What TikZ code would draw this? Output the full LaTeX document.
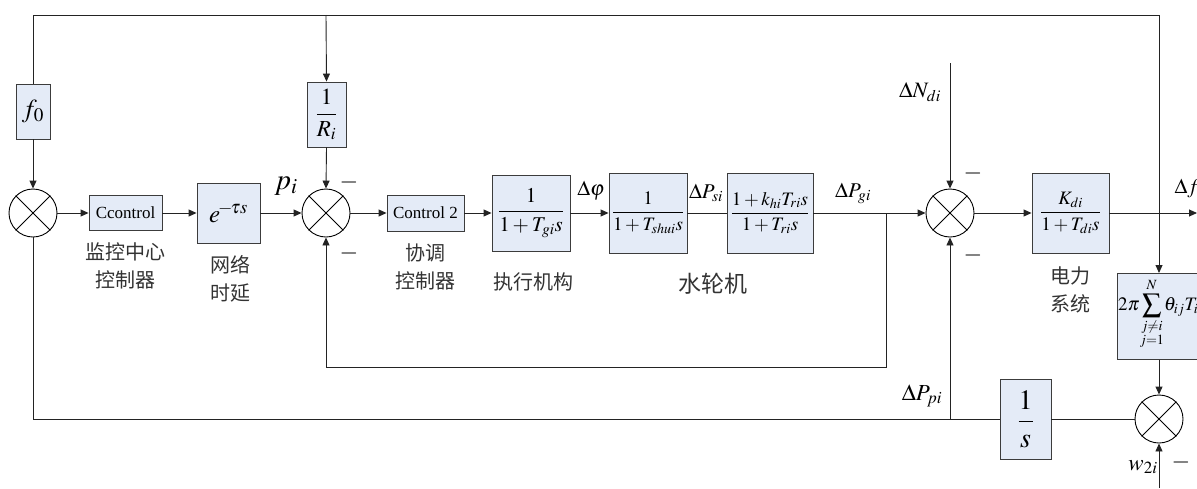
\documentclass[tikz,border=0pt]{standalone}
\usepackage{amsmath}
\usepackage{mathptmx}
\usepackage[no-math]{fontspec}
\setmainfont{Liberation Serif}
\newfontfamily\cjk{Noto Sans CJK SC}
\usetikzlibrary{arrows.meta,calc}
\definecolor{boxfill}{RGB}{228,235,247}
\definecolor{boxline}{RGB}{60,60,60}
\definecolor{wirecol}{RGB}{35,35,35}
\tikzset{
  blk/.style={draw=boxline, fill=boxfill, line width=0.9pt, inner sep=0pt},
  summer/.style={draw=black, circle, minimum size=48pt, inner sep=0pt, line width=0.9pt, fill=white},
  wire/.style={draw=wirecol, line width=0.9pt},
  sig/.style={wire, -{Triangle[length=8pt,width=7pt]}},
  cn/.style={font=\cjk\fontsize{20}{28}\selectfont, align=center, text=black!80, inner sep=0pt},
  lbl/.style={font=\fontsize{21}{24}\selectfont, inner sep=0pt},
  minus/.style={font=\fontsize{24}{26}\selectfont, inner sep=0pt},
}
\begin{document}
\begin{tikzpicture}[x=1pt,y=-1pt]
\useasboundingbox (0,0) rectangle (1197,488);
\clip (0,0) rectangle (1197,488);

% summing junctions
\node[summer] (s1) at (33,213) {};
\node[summer] (s2) at (326,213) {};
\node[summer] (s3) at (950,213) {};
\node[summer] (s4) at (1159,419) {};
\foreach \s in {s1,s2,s3,s4}
  \draw[line width=0.8pt] (\s.45) -- (\s.225) (\s.135) -- (\s.315);

% transfer blocks
\node[blk, minimum width=34, minimum height=55, font=\fontsize{26}{28}\selectfont] (f0) at (33,111.5) {$f_0$};
\node[blk, minimum width=39, minimum height=65, font=\fontsize{23}{26}\selectfont] (Rinv) at (326.5,114.5) {$\dfrac{1}{R_i}$};
\node[blk, minimum width=73, minimum height=35, font=\fontsize{17}{20}\selectfont] (cc) at (125.5,213) {Ccontrol};
\node[blk, minimum width=63, minimum height=60, font=\fontsize{25}{28}\selectfont] (ed) at (228.5,213) {$e^{\!-\!\tau s}$};
\node[blk, minimum width=77, minimum height=36, font=\fontsize{17}{20}\selectfont] (c2) at (425.5,213) {Control 2};
\node[blk, minimum width=78, minimum height=76, font=\fontsize{21}{24}\selectfont] (tg) at (531,213) {$\dfrac{1}{1+T_{gi}s}$};
\node[blk, minimum width=78, minimum height=80, font=\fontsize{19}{24}\selectfont] (ts) at (648,213) {$\dfrac{1}{1+T_{shui}s}$};
\node[blk, minimum width=86, minimum height=80, font=\fontsize{19}{24}\selectfont] (tr) at (770,213) {$\dfrac{1+k_{hi}T_{ri}s}{1+T_{ri}s}$};
\node[blk, minimum width=77, minimum height=80, font=\fontsize{19}{24}\selectfont] (kd) at (1070.5,213) {$\dfrac{K_{di}}{1+T_{di}s}$};
\node[blk, minimum width=51, minimum height=80, font=\fontsize{28}{30}\selectfont] (si) at (1025.5,419) {$\dfrac{1}{s}$};
\node[blk, anchor=north west, minimum width=110, minimum height=86] (sum) at (1117,273) {};
\node[anchor=west, inner sep=0pt, font=\fontsize{19}{22}\selectfont] (sumtx) at (1118,314)
  {$\displaystyle 2\pi\!\sum_{\substack{j\neq i\\ j=1}}^{N}\!\theta_{ij}T_{ij}$};

% auxiliary points of the wiring
\coordinate (topL) at (33,15);
\coordinate (topM) at (326,15);
\coordinate (topR) at (1159,15);
\coordinate (fbk)  at (886,213);
\coordinate (fbkB) at (886,367);
\coordinate (ndi)  at (950,63);
\coordinate (fout) at (1197,213);
\coordinate (wb)   at (1159,488);
\coordinate (bl)   at (33,419);
\coordinate (pj)   at (950,419);

% forward path
\draw[sig] (s1.east) -- (cc.west);
\draw[sig] (cc.east) -- (ed.west);
\draw[sig] (ed.east) -- (s2.west);
\draw[sig] (s2.east) -- (c2.west);
\draw[sig] (c2.east) -- (tg.west);
\draw[sig] (tg.east) -- (ts.west);
\draw[wire] (ts.east) -- (tr.west);
\draw[sig] (tr.east) -- (s3.west);
\draw[sig] (s3.east) -- (kd.west);
\draw[sig] (kd.east) -- (fout);

% frequency feedback along the top
\draw[wire] (f0.north) -- (topL) -- (topR);
\draw[sig] (topR) -- (topR |- sum.north);
\draw[sig] (topM) -- (Rinv.north);
\draw[sig] (f0.south) -- (s1.north);
\draw[sig] (Rinv.south) -- (s2.north);

% inner loop and load disturbance
\draw[sig] (fbk) -- (fbkB) -| (s2.south);
\draw[sig] (ndi) -- (s3.north);

% tie-line power path
\draw[sig] (s4 |- sum.south) -- (s4.north);
\draw[sig] (wb) -- (s4.south);
\draw[wire] (s4.west) -- (si.east);
\draw[wire] (si.west) -- (bl) -- (s1.south);
\draw[sig] (pj) -- (s3.south);

% signal labels
\node[font=\fontsize{29}{30}\selectfont, inner sep=0pt] (lpi) at (286,186) {$p_i$};
\node[lbl] (lphi) at (591,191) {$\Delta\varphi$};
\node[lbl] (lpsi) at (706,193) {$\Delta P_{si}$};
\node[lbl] (lpgi) at (853,193) {$\Delta P_{gi}$};
\node[lbl, font=\fontsize{22}{24}\selectfont] (lndi) at (920,92) {$\Delta N_{di}$};
\node[lbl] (ldf)  at (1187,189) {$\Delta f$};
\node[lbl, font=\fontsize{23}{25}\selectfont] (lppi) at (922,396) {$\Delta P_{pi}$};
\node[lbl, font=\fontsize{23}{25}\selectfont] (lw)   at (1143,467) {$w_{2i}$};

% signs
\node[minus] (m1) at (349,182) {$-$};
\node[minus] (m2) at (349,253) {$-$};
\node[minus] (m3) at (973,173) {$-$};
\node[minus] (m4) at (973,255) {$-$};
\node[minus] (m5) at (1181,462) {$-$};

% block captions
\node[cn] (t1) at (125,266) {监控中心\\控制器};
\node[cn] (t2) at (230,279) {网络\\时延};
\node[cn] (t3) at (425,267) {协调\\控制器};
\node[cn] (t4) at (533,282) {执行机构};
\node[cn, font=\cjk\fontsize{23}{28}\selectfont] (t5) at (713,284) {水轮机};
\node[cn] (t6) at (1070,290) {电力\\系统};
\end{tikzpicture}
\end{document}
